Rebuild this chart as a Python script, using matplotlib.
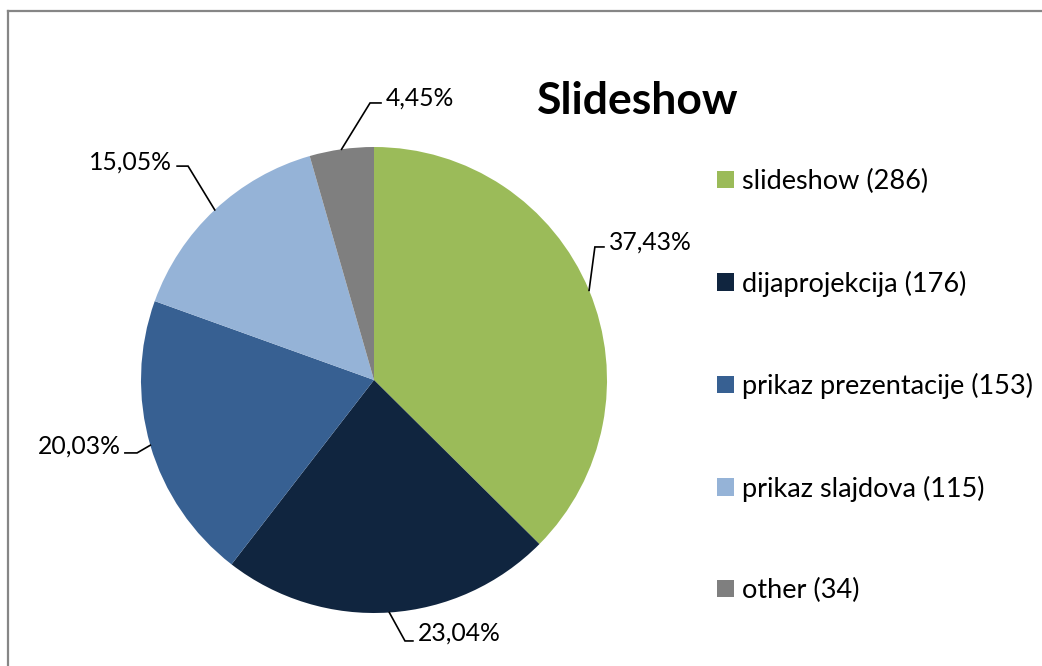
import matplotlib
matplotlib.use("Agg")
import matplotlib.pyplot as plt
from matplotlib.lines import Line2D
import numpy as np

categories = ["slideshow", "dijaprojekcija", "prikaz prezentacije", "prikaz slajdova", "other"]
counts = [286, 176, 153, 115, 34]
colors = ["#9BBB59", "#10253F", "#376092", "#95B3D7", "#7F7F7F"]
title = "Slideshow"

plt.rcParams['font.family'] = ['Lato', 'DejaVu Sans']

W, H = 1042, 666
fig = plt.figure(figsize=(W / 100, H / 100), dpi=100)
cx, cy, R = 374, 380, 233
ax = fig.add_axes([0, 0, 1, 1])
ax.axis('off')

wedges, _ = ax.pie(counts, colors=colors, startangle=90, counterclock=False,
                   radius=1.0, wedgeprops=dict(linewidth=0))
ax.set_xlim(-cx / R, (W - cx) / R)
ax.set_ylim(-(H - cy) / R, cy / R)
ax.set_aspect('auto')

total = sum(counts)
pcts = [c / total * 100 for c in counts]

# label layout: (elbow, line end, text pos, ha)
layout = [
    ((0.948, 0.571), (0.987, 0.571), (1.010, 0.590), 'left'),
    ((0.133, -1.120), (0.167, -1.120), (0.190, -1.088), 'left'),
    ((-1.017, -0.313), (-1.069, -0.313), (-1.088, -0.283), 'right'),
    ((-0.798, 0.918), (-0.845, 0.918), (-0.866, 0.935), 'right'),
    ((-0.017, 1.189), (0.030, 1.189), (0.052, 1.212), 'left'),
]
for w, p, (elb, end, tp, ha) in zip(wedges, pcts, layout):
    ang = np.deg2rad((w.theta1 + w.theta2) / 2)
    x0, y0 = np.cos(ang), np.sin(ang)
    ax.plot([x0, elb[0], end[0]], [y0, elb[1], end[1]], color='black', lw=1.2,
            solid_joinstyle='miter')
    ax.text(tp[0], tp[1], f"{p:.2f}%".replace('.', ','), ha=ha, va='center',
            fontsize=17.8, color='black')

fig.text(638 / W, 1 - 101 / H, title, ha='center', va='center', fontsize=32,
         fontweight='bold', color='black')

labels = [f"{c} ({n})" for c, n in zip(categories, counts)]
leg = fig.legend(wedges, labels, loc='upper left',
                 bbox_to_anchor=(717 / W, 1 - 169 / H), frameon=False,
                 fontsize=19.5, handlelength=0.63, handleheight=0.63,
                 handletextpad=0.3, labelspacing=2.82, borderpad=0,
                 borderaxespad=0)

# outer chart border (top and left visible)
fig.add_artist(Line2D([8 / W, 1], [1 - 11 / H, 1 - 11 / H], transform=fig.transFigure,
                      color='#868686', lw=1.6))
fig.add_artist(Line2D([8 / W, 8 / W], [0, 1 - 11 / H], transform=fig.transFigure,
                      color='#868686', lw=1.6))

fig.savefig("out.png", dpi=100)
